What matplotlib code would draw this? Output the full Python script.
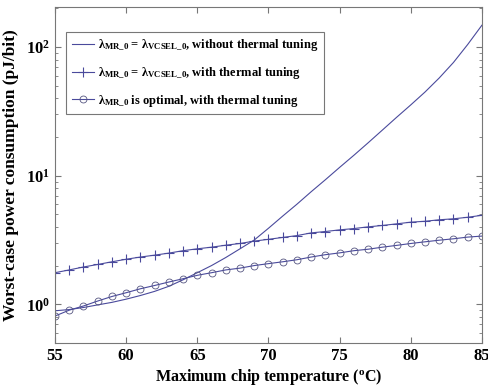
import numpy as np
import matplotlib
matplotlib.use('Agg')
import matplotlib.pyplot as plt
from matplotlib.ticker import FixedLocator, LogLocator, NullFormatter

plt.rcParams['font.family'] = ['Liberation Serif', 'DejaVu Serif']
plt.rcParams['font.weight'] = 'bold'
plt.rcParams['mathtext.fontset'] = 'custom'
plt.rcParams['mathtext.rm'] = 'Liberation Serif:bold'
plt.rcParams['mathtext.bf'] = 'Liberation Serif:bold'
plt.rcParams['mathtext.it'] = 'Liberation Serif:bold'

# Temperature (°C), one point per degree
temp = np.arange(55, 86)

# lambda_MR_0 = lambda_VCSEL_0, without thermal tuning
no_tuning = [0.89, 0.91, 0.944, 0.989, 1.035, 1.096, 1.17, 1.26, 1.38, 1.55,
             1.76, 2.0, 2.31, 2.70, 3.16, 3.9, 4.85, 6.0, 7.5, 9.3,
             11.6, 14.4, 18.0, 22.6, 28.4, 35.5, 44.7, 57.5, 75.9, 104.7, 147.9]

# lambda_MR_0 = lambda_VCSEL_0, with thermal tuning
same_tuning = [1.76, 1.85, 1.95, 2.04, 2.14, 2.24, 2.33, 2.41, 2.50, 2.61,
               2.70, 2.78, 2.88, 2.97, 3.10, 3.20, 3.31, 3.42, 3.59, 3.68,
               3.79, 3.88, 4.00, 4.10, 4.22, 4.35, 4.42, 4.54, 4.62, 4.75, 4.92]

# lambda_MR_0 optimal, with thermal tuning
opt_tuning = [0.81, 0.90, 0.97, 1.06, 1.15, 1.23, 1.32, 1.40, 1.49, 1.58,
              1.68, 1.76, 1.85, 1.91, 2.00, 2.07, 2.14, 2.22, 2.33, 2.43,
              2.51, 2.61, 2.68, 2.78, 2.87, 2.97, 3.06, 3.15, 3.23, 3.33, 3.39]

labels = [
    r'λ$_{\mathbf{MR\_0}}$ = λ$_{\mathbf{VCSEL\_0}}$, without thermal tuning',
    r'λ$_{\mathbf{MR\_0}}$ = λ$_{\mathbf{VCSEL\_0}}$, with thermal tuning',
    r'λ$_{\mathbf{MR\_0}}$ is optimal, with thermal tuning',
]

col = '#4a4a9c'

fig = plt.figure(figsize=(4.89, 3.88), dpi=100)
ax = fig.add_axes([0.1125, 0.116, 0.873, 0.866])

ax.semilogy(temp, no_tuning, color=col, lw=0.8, label=labels[0])
ax.semilogy(temp, same_tuning, color=col, lw=0.8, marker='+', ms=7,
            mew=0.8, label=labels[1])
ax.semilogy(temp, opt_tuning, color=col, lw=0.8, marker='o', ms=5,
            mfc='none', mec='#555580', mew=0.6, label=labels[2])

ax.set_xlim(55, 85)
ax.set_ylim(0.5, 205)
ax.xaxis.set_major_locator(FixedLocator([55, 60, 65, 70, 75, 80, 85]))
ax.yaxis.set_major_locator(LogLocator(base=10))
ax.yaxis.set_minor_locator(LogLocator(base=10, subs=np.arange(2, 10)))
ax.yaxis.set_minor_formatter(NullFormatter())
ax.tick_params(which='both', direction='in', top=True, right=True,
               color='#777777', labelsize=12)
ax.tick_params(which='major', length=4)
ax.tick_params(which='minor', length=2.5)
for s in ax.spines.values():
    s.set_color('#777777')

ax.set_xlabel(r'Maximum chip temperature ($^{\mathbf{o}}$C)', fontsize=11.5,
              fontweight='bold', labelpad=2)
ax.set_ylabel('Worst-case power consumption (pJ/bit)', fontsize=12.5,
              fontweight='bold', labelpad=5)

leg = ax.legend(loc='upper left', bbox_to_anchor=(0.026, 0.926),
                borderaxespad=0,
                prop={'family': 'Liberation Serif', 'weight': 'bold', 'size': 9},
                handlelength=1.8, handletextpad=0.3, borderpad=0.45,
                labelspacing=0.95, fancybox=False, framealpha=1)
leg.get_frame().set_edgecolor('#777777')
leg.get_frame().set_linewidth(0.8)

fig.savefig('out.png', dpi=100)
